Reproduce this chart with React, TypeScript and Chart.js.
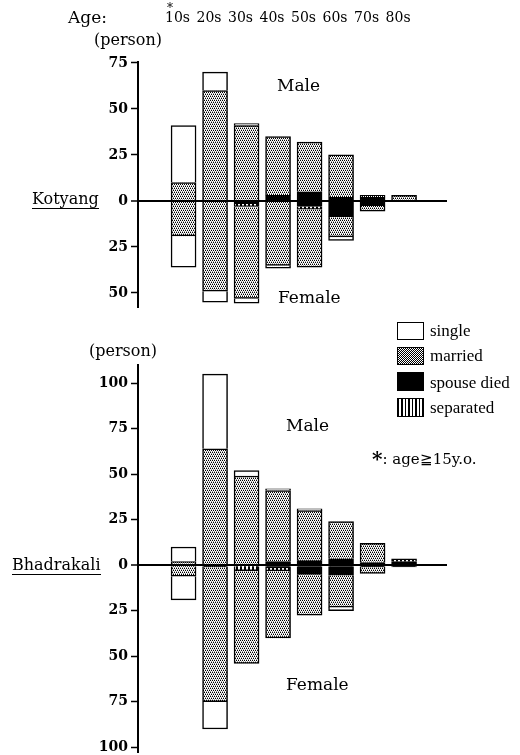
import React, { useEffect, useRef } from "react";
import { Chart, registerables } from "chart.js";

Chart.register(...registerables);

const ageLabels = ["10s", "20s", "30s", "40s", "50s", "60s", "70s", "80s"];
const statusNames = ["single", "married", "spouse died", "separated"];

// Kotyang (persons)
const kotMaleSingle = [31, 10, 1, 0, 0, 0, 0, 0];
const kotMaleMarried = [10, 60, 41, 32, 27, 23, 1, 3];
const kotMaleSpouseDied = [0, 0, 0, 3, 5, 2, 2, 0];
const kotMaleSeparated = [0, 0, 0, 0, 0, 0, 0, 0];
const kotFemaleSingle = [17, 6, 2.5, 1.5, 0, 2, 0, 0];
const kotFemaleMarried = [19, 49, 50, 35, 31.5, 11, 3, 0];
const kotFemaleSpouseDied = [0, 0, 1.5, 0, 3, 8.5, 2.5, 0];
const kotFemaleSeparated = [0, 0, 1.5, 0, 1.5, 0, 0, 0];

// Bhadrakali (persons)
const bhaMaleSingle = [8, 41, 3, 1, 1, 0, 0, 0];
const bhaMaleMarried = [2, 64, 49, 39, 27.5, 20.5, 10.5, 0];
const bhaMaleSpouseDied = [0, 0, 0, 2, 2.5, 3.5, 1.5, 2];
const bhaMaleSeparated = [0, 0, 0, 0, 0, 0, 0, 1.5];
const bhaFemaleSingle = [13, 15, 0, 0, 0, 2, 0, 0];
const bhaFemaleMarried = [6, 74, 51, 37, 22.5, 17.5, 3.5, 0];
const bhaFemaleSpouseDied = [0, 1, 0, 1.5, 5, 5.5, 1, 1];
const bhaFemaleSeparated = [0, 0, 3, 1.5, 0, 0, 0, 0];

const kotTicks = [-50, -25, 0, 25, 50, 75];
const bhaTicks = [-100, -75, -50, -25, 0, 25, 50, 75, 100];

function makeFills(ctx: CanvasRenderingContext2D) {
  const dots = document.createElement("canvas");
  dots.width = 4;
  dots.height = 4;
  const d = dots.getContext("2d")!;
  d.fillStyle = "#fff";
  d.fillRect(0, 0, 4, 4);
  d.fillStyle = "#000";
  [[0, 0], [2, 0], [1, 2], [3, 2]].forEach(([x, y]) => d.fillRect(x, y, 1, 1));
  d.fillStyle = "#9a9a9a";
  [[1, 1], [3, 1], [0, 3], [2, 3]].forEach(([x, y]) => d.fillRect(x, y, 1, 1));
  const stripes = document.createElement("canvas");
  stripes.width = 4;
  stripes.height = 4;
  const s = stripes.getContext("2d")!;
  s.fillStyle = "#fff";
  s.fillRect(0, 0, 4, 4);
  s.fillStyle = "#000";
  s.fillRect(0, 0, 2, 4);
  return {
    single: "#ffffff",
    married: ctx.createPattern(dots, "repeat") as any,
    spouse: "#000000",
    separated: ctx.createPattern(stripes, "repeat") as any,
  };
}

type Village = {
  male: { single: number[]; married: number[]; spouse: number[]; separated: number[] };
  female: { single: number[]; married: number[]; spouse: number[]; separated: number[] };
};

function buildDatasets(v: Village, fills: any) {
  const order: Array<[keyof Village["male"], string]> = [
    ["spouse", statusNames[2]],
    ["separated", statusNames[3]],
    ["married", statusNames[1]],
    ["single", statusNames[0]],
  ];
  const ds: any[] = [];
  (["male", "female"] as const).forEach((sex) => {
    const sign = sex === "male" ? 1 : -1;
    order.forEach(([key, name]) => {
      ds.push({
        label: `${sex} ${name}`,
        stack: "s",
        data: v[sex][key].map((val, i) => ({ x: i, y: val ? sign * val : null })),
        backgroundColor: fills[key],
        borderColor: "#000",
        borderWidth: 1.5,
        barThickness: 25,
        borderSkipped: "start",
      });
    });
  });
  return ds;
}

function yAxis(min: number, max: number, ticks: number[]) {
  return {
    type: "linear",
    min,
    max,
    stacked: true,
    afterFit: (s: any) => {
      s.width = 138;
    },
    afterBuildTicks: (s: any) => {
      s.ticks = ticks.map((v) => ({ value: v }));
    },
    ticks: {
      callback: (v: any) => String(Math.abs(Number(v))),
      color: "#000",
      font: { family: "DejaVu Serif", size: 14, weight: "bold" },
      padding: 3,
    },
    grid: {
      z: 1,
      drawOnChartArea: true,
      color: (c: any) => (c.tick && c.tick.value === 0 ? "#000" : "rgba(0,0,0,0)"),
      lineWidth: (c: any) => (c.tick && c.tick.value === 0 ? 2 : 1),
      tickColor: "#000",
      tickWidth: 1.5,
      tickLength: 7,
    },
    border: { display: true, color: "#000", width: 2, z: 1 },
  };
}

function xAxis(show: boolean) {
  return {
    type: "linear",
    position: "top",
    display: show,
    min: -0.833,
    max: 7.75,
    stacked: true,
    afterFit: (s: any) => {
      s.height = show ? 62 : 0;
    },
    afterBuildTicks: (s: any) => {
      s.ticks = ageLabels.map((_, i) => ({ value: i }));
    },
    ticks: {
      callback: (v: any) => ageLabels[Number(v)] ?? "",
      color: "#000",
      font: { family: "DejaVu Serif", size: 14 },
      padding: 35,
      labelOffset: -6,
      maxRotation: 0,
      autoSkip: false,
    },
    grid: { display: false, drawTicks: false },
    border: { display: false },
  };
}

function makeChart(canvas: HTMLCanvasElement, v: Village, top: boolean) {
  const ctx = canvas.getContext("2d")!;
  const fills = makeFills(ctx);
  return new Chart(ctx, {
    type: "bar",
    data: { datasets: buildDatasets(v, fills) },
    options: {
      animation: false,
      responsive: false,
      maintainAspectRatio: false,
      layout: top
        ? { padding: { left: 0, top: 0, right: 73, bottom: 22.3 } }
        : { padding: { left: 0, top: 53, right: 73, bottom: 19.3 } },
      plugins: { legend: { display: false }, tooltip: { enabled: false } },
      scales: {
        x: xAxis(top) as any,
        y: (top ? yAxis(-58, 75.5, kotTicks) : yAxis(-103, 110, bhaTicks)) as any,
      },
    } as any,
  });
}

const kotyang: Village = {
  male: { single: kotMaleSingle, married: kotMaleMarried, spouse: kotMaleSpouseDied, separated: kotMaleSeparated },
  female: { single: kotFemaleSingle, married: kotFemaleMarried, spouse: kotFemaleSpouseDied, separated: kotFemaleSeparated },
};
const bhadrakali: Village = {
  male: { single: bhaMaleSingle, married: bhaMaleMarried, spouse: bhaMaleSpouseDied, separated: bhaMaleSeparated },
  female: { single: bhaFemaleSingle, married: bhaFemaleMarried, spouse: bhaFemaleSpouseDied, separated: bhaFemaleSeparated },
};

const txt = (left: number, top: number, size: number, extra: any = {}): React.CSSProperties => ({
  position: "absolute",
  left,
  top,
  fontSize: size,
  lineHeight: 1,
  whiteSpace: "nowrap",
  fontFamily: "DejaVu Serif",
  color: "#000",
  ...extra,
});

const swatch = (top: number, h: number, bg: any): React.CSSProperties => ({
  position: "absolute",
  left: 397,
  top,
  width: 27,
  height: h,
  boxSizing: "border-box",
  border: "1.5px solid #000",
  ...bg,
});

export default function App() {
  const topRef = useRef<HTMLCanvasElement>(null);
  const botRef = useRef<HTMLCanvasElement>(null);

  useEffect(() => {
    const c1 = makeChart(topRef.current!, kotyang, true);
    const c2 = makeChart(botRef.current!, bhadrakali, false);
    return () => {
      c1.destroy();
      c2.destroy();
    };
  }, []);

  const legendFont = { fontFamily: "Liberation Serif", fontSize: 17 };

  return (
    <div
      style={{
        position: "absolute",
        left: 0,
        top: 0,
        width: 520,
        height: 755,
        overflow: "hidden",
        background: "#fff",
      }}
    >
      <canvas ref={topRef} width={520} height={330} style={{ position: "absolute", left: 0, top: 0 }} />
      <canvas ref={botRef} width={520} height={460} style={{ position: "absolute", left: 0, top: 312 }} />

      <div style={txt(68, 9, 17)}>Age:</div>
      <div style={txt(167, 2, 12)}>*</div>
      <div style={txt(94, 32, 16)}>(person)</div>
      <div style={txt(277, 77, 17)}>Male</div>
      <div style={txt(278, 289, 17)}>Female</div>
      <div style={txt(32, 191, 16, { height: 17, borderBottom: "1.5px solid #000" })}>Kotyang</div>

      <div style={txt(89, 343, 16)}>(person)</div>
      <div style={txt(286, 417, 17)}>Male</div>
      <div style={txt(286, 676, 17)}>Female</div>
      <div style={txt(12, 557, 16, { height: 17, borderBottom: "1.5px solid #000" })}>Bhadrakali</div>

      <div style={swatch(322, 18, { background: "#fff" })} />
      <div
        style={swatch(347, 18, {
          backgroundColor: "#aaa",
          backgroundImage: "conic-gradient(#000 0 25%, #fff 0 50%, #000 0 75%, #fff 0)",
          backgroundSize: "2px 2px",
        })}
      />
      <div style={swatch(372, 19, { background: "#000" })} />
      <div
        style={swatch(398, 19, {
          backgroundImage: "repeating-linear-gradient(90deg, #000 0px, #000 1.5px, #fff 1.5px, #fff 3.5px)",
        })}
      />
      <div style={txt(430, 322, 17, legendFont)}>{statusNames[0]}</div>
      <div style={txt(430, 347, 17, legendFont)}>{statusNames[1]}</div>
      <div style={txt(430, 374, 17, legendFont)}>{statusNames[2]}</div>
      <div style={txt(430, 399, 17, legendFont)}>{statusNames[3]}</div>

      <div style={txt(372, 449, 15)}>
        <span style={{ fontSize: 20, fontWeight: "bold", verticalAlign: "-2px" }}>*</span>: age≧15y.o.
      </div>
    </div>
  );
}
